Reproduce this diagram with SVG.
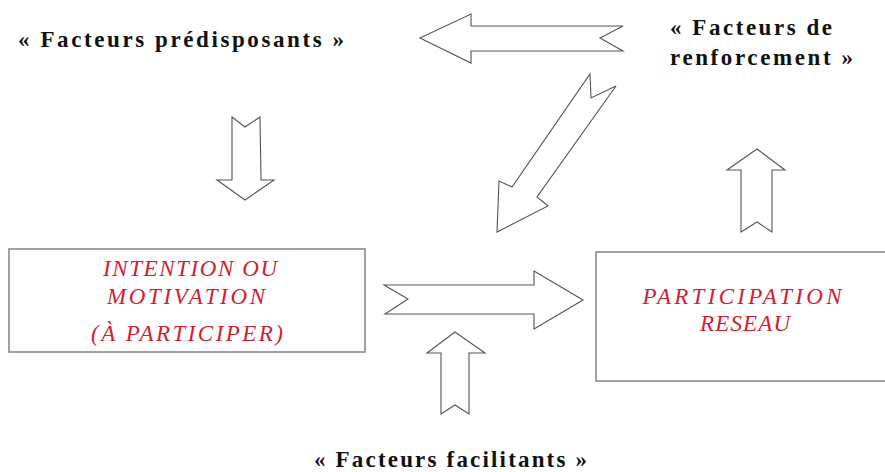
<svg xmlns="http://www.w3.org/2000/svg" width="885" height="472" viewBox="0 0 885 472">
<style>
.lbl{font-family:"Liberation Serif","Times New Roman",serif;font-weight:bold;font-size:23px;fill:#111}
.red{font-family:"Liberation Serif","Times New Roman",serif;font-style:italic;font-size:23px;fill:#d3202e;text-anchor:middle}
.box{fill:#fff;stroke:#8a8a8a;stroke-width:1.6}
.arr{fill:#fff;stroke:#555;stroke-width:1.1;stroke-linejoin:miter}
</style>
<rect width="885" height="472" fill="#fff"/>
<g id="label-predisposants"><text class="lbl" x="18" y="47" textLength="326" lengthAdjust="spacing">« Facteurs prédisposants »</text></g>
<g id="label-renforcement"><text class="lbl" x="670" y="35" textLength="162" lengthAdjust="spacing">« Facteurs de</text><text class="lbl" x="670" y="65" textLength="183" lengthAdjust="spacing">renforcement »</text></g>
<g id="label-facilitants"><text class="lbl" x="314" y="467" textLength="273" lengthAdjust="spacing">« Facteurs facilitants »</text></g>
<g id="node-intention"><rect class="box" x="9" y="249" width="356" height="103"/>
<text class="red" x="190" y="276" textLength="174" lengthAdjust="spacing">INTENTION OU</text>
<text class="red" x="186" y="304" textLength="158" lengthAdjust="spacing">MOTIVATION</text>
<text class="red" x="187" y="341" textLength="192" lengthAdjust="spacing">(À PARTICIPER)</text></g>
<g id="node-participation"><rect class="box" x="596" y="252" width="292" height="129"/>
<text class="red" x="742" y="304" textLength="199" lengthAdjust="spacing">PARTICIPATION</text>
<text class="red" x="745" y="331" textLength="90" lengthAdjust="spacing">RESEAU</text></g>
<g id="connectors">
<polygon class="arr" points="420,38 471,14 471,26 623,26 600,38 623,51 471,51 471,63"/>
<polygon class="arr" points="590,74 591,98 616,86 537,197 548,206 497,232 499,181 512,187"/>
<polygon class="arr" points="232,117 245,127 260,117 261,180 274,180 245,200 217,180 232,180"/>
<polygon class="arr" points="384,285 534,285 534,271 583,300 534,329 534,314 385,314 408,299"/>
<polygon class="arr" points="455,332 485,353 469,353 469,414 455,405 441,414 441,353 427,353"/>
<polygon class="arr" points="757,149 785,170 772,170 772,232 757,222 741,232 741,170 727,170"/>
</g>
</svg>
